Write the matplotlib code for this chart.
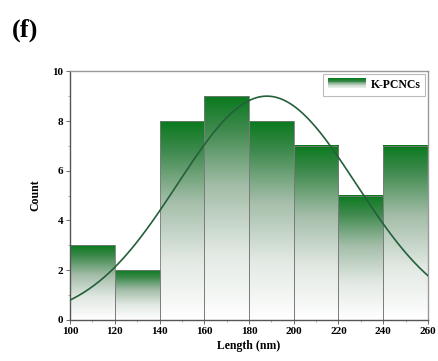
import matplotlib
matplotlib.use("Agg")
import matplotlib.pyplot as plt
import numpy as np
from matplotlib.colors import LinearSegmentedColormap
from matplotlib.legend_handler import HandlerBase
from matplotlib.patches import Rectangle, Patch

plt.rcParams['font.family'] = ['Liberation Serif', 'DejaVu Serif']
plt.rcParams['font.weight'] = 'bold'

# histogram data
bin_edges = [100, 120, 140, 160, 180, 200, 220, 240, 260]
counts = [3, 2, 8, 9, 8, 7, 5, 7]
# normal fit parameters
fit_mean = 188
fit_sd = 40
fit_peak = 9.0

cmap = LinearSegmentedColormap.from_list(
    'grn', [(0.0, '#ffffff'), (0.3, '#e2e9e3'), (0.6, '#a3bda8'),
            (0.85, '#3f8a4e'), (1.0, '#0a7a1e')])
leg_cmap = LinearSegmentedColormap.from_list(
    'grn_leg', [(0.0, '#ffffff'), (0.45, '#b5cbb9'), (0.75, '#3f8a4e'),
                (1.0, '#0a7a1e')])


class GradHandler(HandlerBase):
    def create_artists(self, legend, orig, xd, yd, w, h, fs, trans):
        arts = []
        n = 14
        y0 = -yd - h * 0.15
        hh = h * 1.3
        for i in range(n):
            r = Rectangle((-xd, y0 + hh * i / n), w, hh / n + 0.3,
                          facecolor=leg_cmap(i / (n - 1)), edgecolor='none',
                          transform=trans)
            arts.append(r)
        return arts


fig = plt.figure(figsize=(4.38, 3.61), dpi=100)
ax = fig.add_axes([0.160, 0.1136, 0.817, 0.689])

grad = np.linspace(0, 1, 256).reshape(-1, 1)
for x0, x1, c in zip(bin_edges[:-1], bin_edges[1:], counts):
    ax.imshow(grad, extent=[x0, x1, 0, c], origin='lower', aspect='auto',
              cmap=cmap, vmin=0, vmax=1, zorder=1, interpolation='bilinear')
widths = np.diff(bin_edges)
ax.bar(bin_edges[:-1], counts, width=widths, align='edge', fill=False,
       edgecolor='#7a7a7a', linewidth=0.6, zorder=2)

xs = np.linspace(100, 260, 300)
ax.plot(xs, fit_peak * np.exp(-(xs - fit_mean) ** 2 / (2 * fit_sd ** 2)),
        color='#24603a', linewidth=1.2, zorder=3)

ax.set_xlim(100, 260)
ax.set_ylim(0, 10)
ax.set_xticks(range(100, 261, 20))
ax.set_yticks(range(0, 11, 2))
ax.set_xticks(range(110, 260, 20), minor=True)
ax.set_yticks(range(1, 10, 2), minor=True)
ax.tick_params(which='major', direction='out', length=3, width=0.6,
               labelsize=8, pad=2, color='#555555')
ax.tick_params(which='minor', direction='out', length=1.5, width=0.5,
               color='#888888')
for t in ax.get_xticklabels() + ax.get_yticklabels():
    t.set_fontweight('bold')

for s in ['left', 'bottom']:
    ax.spines[s].set_color('#555555')
    ax.spines[s].set_linewidth(1.0)
for s in ['top', 'right']:
    ax.spines[s].set_color('#999999')
    ax.spines[s].set_linewidth(1.0)

ax.set_xlabel('Length (nm)', fontsize=8.5, fontweight='bold', labelpad=3)
ax.set_ylabel('Count', fontsize=8.5, fontweight='bold', labelpad=8)

leg = ax.legend([Patch()], ['K-PCNCs'], handler_map={Patch: GradHandler()},
                loc='upper right', fontsize=8.5, frameon=True, fancybox=False,
                borderaxespad=0.25, handlelength=3.2, handleheight=0.7,
                borderpad=0.4, handletextpad=0.4)
leg.get_frame().set_edgecolor('#aaaaaa')
leg.get_frame().set_linewidth(0.8)
for t in leg.get_texts():
    t.set_fontweight('bold')

fig.text(0.028, 0.915, '(f)', fontsize=19, fontweight='bold', va='center', ha='left')

fig.savefig('out.png', dpi=100)
